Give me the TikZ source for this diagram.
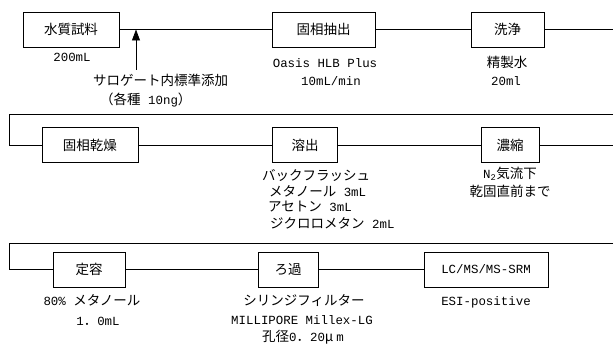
\documentclass[tikz,border=0pt]{standalone}
\usepackage{fontspec}
\setmainfont[Scale=0.92]{Liberation Mono}
\newfontfamily\jp{Noto Sans CJK JP}
\usetikzlibrary{arrows.meta}
\begin{document}
\begin{tikzpicture}[x=1pt,y=-1pt,
  every node/.style={font=\fontsize{13.5}{16}\selectfont},
  stepbox/.style={draw,line width=0.9pt,inner sep=0pt,minimum height=35pt},
  lbl/.style={inner sep=0pt},
  conn/.style={line width=0.8pt}]
\useasboundingbox (0,0) rectangle (614,344);
% row 1
\node[stepbox,minimum width=96pt] (a) at (71,29.5) {\jp 水質試料};
\node[stepbox,minimum width=103pt] (b) at (323.5,29.5) {\jp 固相抽出};
\node[stepbox,minimum width=73pt] (c) at (507.5,29.5) {\jp 洗浄};
\coordinate (r1end) at (613,29.5);
\draw[conn] (a.east) -- (b.west);
\draw[conn] (b.east) -- (c.west);
\draw[conn] (c.east) -- (r1end);
\coordinate (arrtail) at (136,70);
\coordinate (arrtip) at (136,29.5);
\draw[conn,-{Triangle[length=11pt,width=8pt]}] (arrtail) -- (arrtip);
\node[lbl] (t1) at (72,57) {200mL};
\node[lbl,anchor=west] (t2) at (93,80) {\jp サロゲート内標準添加};
\node[lbl,anchor=west] (t3) at (100,100) {{\jp （各種} 10ng{\jp ）}};
\node[lbl] (t4) at (325,63) {Oasis HLB Plus};
\node[lbl] (t5) at (331,81) {10mL/min};
\node[lbl] (t6) at (507,62) {\jp 精製水};
\node[lbl] (t7) at (506,81) {20ml};
% row 2
\coordinate (r2tr) at (613,114.5);
\coordinate (r2tl) at (9.5,114.5);
\node[stepbox,minimum width=96pt] (d) at (90,145) {\jp 固相乾燥};
\node[stepbox,minimum width=65pt] (e) at (305,145) {\jp 溶出};
\node[stepbox,minimum width=58pt] (f) at (510,145) {\jp 濃縮};
\coordinate (r2end) at (613,145);
\draw[conn] (r2tr) -- (r2tl) |- (d.west);
\draw[conn] (d.east) -- (e.west);
\draw[conn] (e.east) -- (f.west);
\draw[conn] (f.east) -- (r2end);
\node[lbl,anchor=west] (u1) at (262,175) {\jp バックフラッシュ};
\node[lbl,anchor=west] (u2) at (269,191) {{\jp メタノール} 3mL};
\node[lbl,anchor=west] (u3) at (268,207) {{\jp アセトン} 3mL};
\node[lbl,anchor=west] (u4) at (270,223) {{\jp ジクロロメタン} 2mL};
\node[lbl] (u5) at (510,174) {N\textsubscript{2}{\jp 気流下}};
\node[lbl] (u6) at (510,191) {\jp 乾固直前まで};
% row 3
\coordinate (r3tr) at (613,243);
\coordinate (r3tl) at (9.5,243);
\node[stepbox,minimum width=72pt] (g) at (89,269.5) {\jp 定容};
\node[stepbox,minimum width=60pt] (h) at (288,269.5) {\jp ろ過};
\node[stepbox,minimum width=124pt] (i) at (486,269.5) {LC/MS/MS-SRM};
\draw[conn] (r3tr) -- (r3tl) |- (g.west);
\draw[conn] (g.east) -- (h.west);
\draw[conn] (h.east) -- (i.west);
\node[lbl] (v1) at (92,300) {80\% {\jp メタノール}};
\node[lbl] (v2) at (98,321) {1{\jp ．}0mL};
\node[lbl] (v3) at (304,301) {\jp シリンジフィルター};
\node[lbl] (v4) at (302,320) {MILLIPORE Millex-LG};
\node[lbl] (v5) at (303,337) {{\jp 孔径}0{\jp ．}20{\jp μ}\hspace{3pt}m};
\node[lbl] (v6) at (486,302) {ESI-positive};
\end{tikzpicture}
\end{document}
